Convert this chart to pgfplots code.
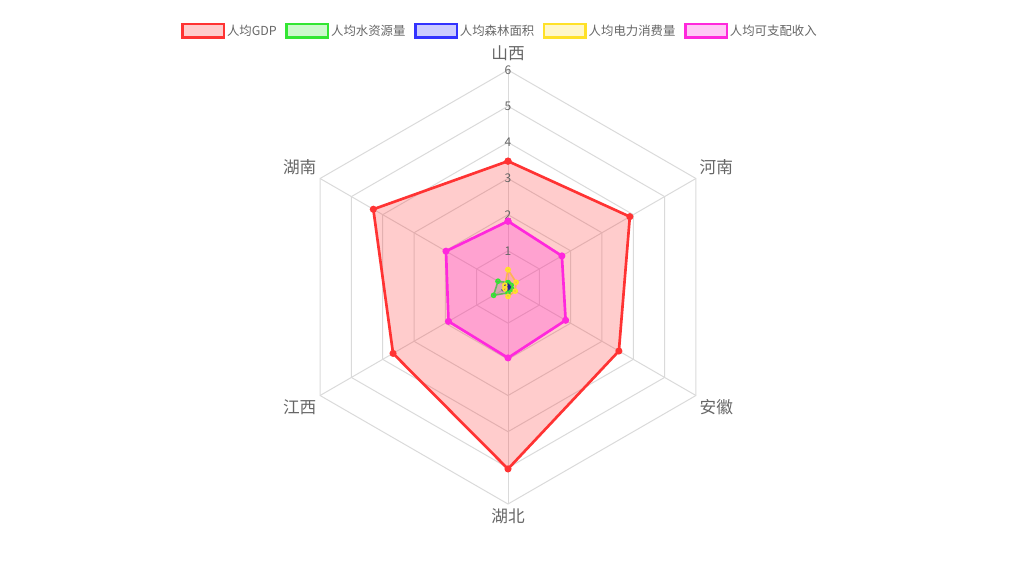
\documentclass[border=0pt]{standalone}
\usepackage{fontspec}
\setmainfont{Noto Sans CJK SC}
\usepackage{pgfplots}
\pgfplotsset{compat=1.18}
\usepgfplotslibrary{polar}

\definecolor{cred}{RGB}{255,51,51}
\definecolor{cgreen}{RGB}{51,230,51}
\definecolor{cblue}{RGB}{51,51,255}
\definecolor{cyellow}{RGB}{255,225,40}
\definecolor{cmag}{RGB}{255,40,220}
\definecolor{gridc}{RGB}{218,218,218}
\definecolor{txtgray}{RGB}{102,102,102}

\begin{document}
\begin{tikzpicture}
\path (0,0) rectangle (759pt,437.25pt);
\begin{polaraxis}[
  at={(381pt,222pt)}, anchor=origin,
  scale only axis, width=325.5pt, height=325.5pt,
  hide axis, clip=false,
  xmin=0, xmax=360, ymin=0, ymax=6,
  legend columns=5,
  legend style={at={(0.4816,1.09)}, anchor=center, draw=none, fill=none,
    font=\fontsize{9.3}{10}\selectfont, text=txtgray,
    /tikz/every even column/.append style={column sep=5pt},
    nodes={inner sep=1.5pt}},
  legend image code/.code={\draw[#1, line width=1.8pt, fill opacity=0.25] (0pt,-5pt) rectangle (31pt,5pt);},
  every axis plot/.append style={mark=*, mark size=1.6pt, mark options={solid, fill opacity=1}},
]
% grid
\pgfplotsinvokeforeach{1,2,3,4,5,6}{
  \addplot[gridc, line width=0.75pt, no marks, forget plot]
    coordinates {(90,#1) (30,#1) (330,#1) (270,#1) (210,#1) (150,#1) (90,#1)};
}
\pgfplotsinvokeforeach{30,90,150,210,270,330}{
  \addplot[gridc, line width=0.75pt, no marks, forget plot] coordinates {(#1,0) (#1,6)};
}
% data
\addplot[draw=cred, fill=cred, fill opacity=0.25, line width=2pt, mark options={fill=cred}]
  coordinates {(90,3.48) (30,3.89) (330,3.54) (270,5.03) (210,3.67) (150,4.30) (90,3.48)};
\addlegendentry{人均GDP}
\addplot[draw=cgreen, fill=cgreen, fill opacity=0.25, line width=1.2pt, mark size=1.5pt, mark options={fill=cgreen!80!black}]
  coordinates {(90,0.12) (30,0.10) (330,0.12) (270,0.16) (210,0.46) (150,0.32) (90,0.12)};
\addlegendentry{人均水资源量}
\addplot[draw=cblue, fill=cblue, fill opacity=0.25, line width=0.6pt, mark size=0.9pt, mark options={fill=cblue!60!black, draw=cblue!60!black}]
  coordinates {(90,0.05) (30,0.04) (330,0.04) (270,0.06) (210,0.16) (150,0.08) (90,0.05)};
\addlegendentry{人均森林面积}
\addplot[draw=cyellow, fill=cyellow, fill opacity=0.25, line width=1.2pt, mark size=1.5pt, mark options={fill=cyellow}]
  coordinates {(90,0.48) (30,0.26) (330,0.23) (270,0.26) (210,0.10) (150,0.10) (90,0.48)};
\addlegendentry{人均电力消费量}
\addplot[draw=cmag, fill=cmag, fill opacity=0.25, line width=2pt, mark options={fill=cmag}]
  coordinates {(90,1.82) (30,1.72) (330,1.84) (270,1.96) (210,1.90) (150,1.98) (90,1.82)};
\addlegendentry{人均可支配收入}
% tick numbers
\pgfplotsinvokeforeach{1,2,3,4,5,6}{
  \node[text=txtgray, font=\fontsize{9}{9}\selectfont, inner sep=0pt] at (axis cs:90,#1) {#1};
}
% category labels
\node[text=txtgray, font=\fontsize{12.5}{13}\selectfont] at (axis cs:90,6.45) {山西};
\node[text=txtgray, font=\fontsize{12.5}{13}\selectfont] at (axis cs:30,6.65) {河南};
\node[text=txtgray, font=\fontsize{12.5}{13}\selectfont] at (axis cs:330,6.65) {安徽};
\node[text=txtgray, font=\fontsize{12.5}{13}\selectfont] at (axis cs:270,6.35) {湖北};
\node[text=txtgray, font=\fontsize{12.5}{13}\selectfont] at (axis cs:210,6.65) {江西};
\node[text=txtgray, font=\fontsize{12.5}{13}\selectfont] at (axis cs:150,6.65) {湖南};
\end{polaraxis}
\end{tikzpicture}
\end{document}
